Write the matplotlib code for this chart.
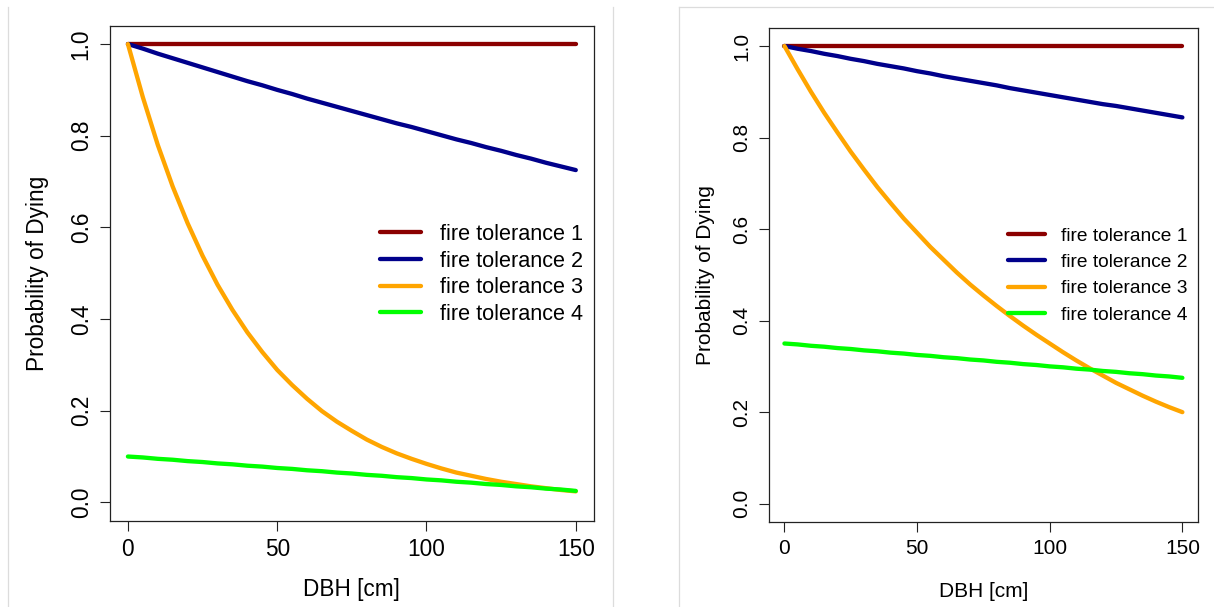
import matplotlib
matplotlib.use("Agg")
import matplotlib.pyplot as plt
from matplotlib.lines import Line2D

plt.rcParams["font.family"] = ["Liberation Sans", "DejaVu Sans"]

# DBH grid (cm) shared by every curve
dbh = [0, 5, 10, 15, 20, 25, 30, 35, 40, 45, 50, 55, 60, 65, 70, 75,
       80, 85, 90, 95, 100, 105, 110, 115, 120, 125, 130, 135, 140, 145, 150]

labels = ["fire tolerance 1", "fire tolerance 2", "fire tolerance 3", "fire tolerance 4"]
colors = ["#8B0000", "#00008B", "#FFA500", "#00FF00"]

# left panel
left_ft1 = [1.0, 1.0, 1.0, 1.0, 1.0, 1.0, 1.0, 1.0, 1.0, 1.0, 1.0, 1.0, 1.0, 1.0, 1.0, 1.0,
            1.0, 1.0, 1.0, 1.0, 1.0, 1.0, 1.0, 1.0, 1.0, 1.0, 1.0, 1.0, 1.0, 1.0, 1.0]
left_ft2 = [1.000, 0.990, 0.979, 0.969, 0.959, 0.949, 0.939, 0.929, 0.919, 0.910, 0.900,
            0.891, 0.881, 0.872, 0.863, 0.854, 0.845, 0.836, 0.827, 0.819, 0.810,
            0.801, 0.792, 0.784, 0.775, 0.767, 0.758, 0.750, 0.741, 0.733, 0.725]
left_ft3 = [1.000, 0.884, 0.780, 0.689, 0.609, 0.538, 0.475, 0.420, 0.371, 0.328, 0.289,
            0.256, 0.226, 0.199, 0.176, 0.156, 0.137, 0.121, 0.107, 0.095, 0.084,
            0.074, 0.065, 0.058, 0.051, 0.045, 0.040, 0.035, 0.031, 0.027, 0.024]
left_ft4 = [0.100, 0.098, 0.095, 0.093, 0.090, 0.088, 0.085, 0.083, 0.080, 0.078, 0.075,
            0.073, 0.070, 0.068, 0.065, 0.063, 0.060, 0.058, 0.055, 0.053, 0.050,
            0.048, 0.045, 0.043, 0.040, 0.038, 0.035, 0.033, 0.030, 0.028, 0.025]

# right panel
right_ft1 = [1.0, 1.0, 1.0, 1.0, 1.0, 1.0, 1.0, 1.0, 1.0, 1.0, 1.0, 1.0, 1.0, 1.0, 1.0, 1.0,
             1.0, 1.0, 1.0, 1.0, 1.0, 1.0, 1.0, 1.0, 1.0, 1.0, 1.0, 1.0, 1.0, 1.0, 1.0]
right_ft2 = [1.000, 0.994, 0.989, 0.983, 0.978, 0.972, 0.967, 0.961, 0.956, 0.951, 0.945,
             0.940, 0.934, 0.929, 0.924, 0.919, 0.914, 0.908, 0.903, 0.898, 0.893,
             0.888, 0.883, 0.878, 0.873, 0.869, 0.864, 0.859, 0.854, 0.849, 0.844]
right_ft3 = [1.000, 0.949, 0.900, 0.854, 0.811, 0.769, 0.730, 0.692, 0.657, 0.623, 0.592,
             0.561, 0.533, 0.505, 0.479, 0.455, 0.432, 0.410, 0.389, 0.369, 0.350,
             0.331, 0.313, 0.296, 0.280, 0.264, 0.250, 0.236, 0.223, 0.211, 0.200]
right_ft4 = [0.350, 0.348, 0.345, 0.343, 0.340, 0.338, 0.335, 0.333, 0.330, 0.328, 0.325,
             0.323, 0.320, 0.318, 0.315, 0.313, 0.310, 0.308, 0.305, 0.303, 0.300,
             0.298, 0.295, 0.293, 0.290, 0.288, 0.285, 0.283, 0.280, 0.278, 0.275]

x_ticks = [0, 50, 100, 150]
y_ticks = [0.0, 0.2, 0.4, 0.6, 0.8, 1.0]

W, H = 1214, 607


def px_rect(x0, y0, x1, y1):
    # pixel box (top-left origin) -> figure fraction rect
    return [x0 / W, 1 - y1 / H, (x1 - x0) / W, (y1 - y0) / H]


def draw_panel(ax, series, fs, leg, xlabel_y, ylabel_x):
    for ys, c, lab in zip(series, colors, labels):
        ax.plot(dbh, ys, color=c, lw=3.1, label=lab, solid_capstyle="round")

    ax.set_xlim(-6, 156)
    ax.set_ylim(-0.04, 1.04)
    ax.set_xticks(x_ticks)
    ax.set_xticklabels([str(t) for t in x_ticks])
    ax.set_yticks(y_ticks)
    ax.set_yticklabels([f"{t:.1f}" for t in y_ticks], rotation=90, va="center")
    ax.tick_params(direction="out", length=7.5, width=0.8, labelsize=fs, pad=5, color="#222222")

    for s in ax.spines.values():
        s.set_linewidth(0.9)
        s.set_color("#222222")

    ax.set_xlabel("DBH [cm]", fontsize=fs, va="center")
    ax.xaxis.set_label_coords(0.5, xlabel_y)
    ax.set_ylabel("Probability of Dying", fontsize=fs, va="center")
    ax.yaxis.set_label_coords(ylabel_x, 0.5)

    ax.legend(loc="center left", bbox_to_anchor=(leg["x"] / W, 1 - leg["y"] / H),
              bbox_transform=ax.figure.transFigure, frameon=False, fontsize=leg["fs"],
              handlelength=leg["hl"], handletextpad=leg["pad"], labelspacing=leg["ls"],
              borderpad=0, borderaxespad=0)


fig = plt.figure(figsize=(W / 100, H / 100), dpi=100)

ax1 = fig.add_axes(px_rect(110, 25.7, 593.7, 520.7))
draw_panel(ax1, [left_ft1, left_ft2, left_ft3, left_ft4], 16.3,
           {"x": 380, "y": 274.5, "fs": 15.6, "hl": 1.89, "pad": 0.88, "ls": 0.26},
           -0.138, -0.1497)

ax2 = fig.add_axes(px_rect(768.5, 27.7, 1198.3, 522))
draw_panel(ax2, [right_ft1, right_ft2, right_ft3, right_ft4], 15,
           {"x": 1008, "y": 275.5, "fs": 13.8, "hl": 1.93, "pad": 0.86, "ls": 0.47},
           -0.14, -0.146)

# faint borders of the two pasted screenshots
gray = "#dcdcdc"
fig.add_artist(Line2D([8 / W, 8 / W], [0, 1 - 7 / H], color=gray, lw=0.9))
fig.add_artist(Line2D([613 / W, 613 / W], [0, 1 - 7 / H], color=gray, lw=0.9))
fig.add_artist(Line2D([679 / W, 679 / W], [0, 1 - 7 / H], color=gray, lw=0.9))
fig.add_artist(Line2D([679 / W, 1], [1 - 7 / H, 1 - 7 / H], color=gray, lw=0.9))

fig.savefig("out.png", dpi=100)
